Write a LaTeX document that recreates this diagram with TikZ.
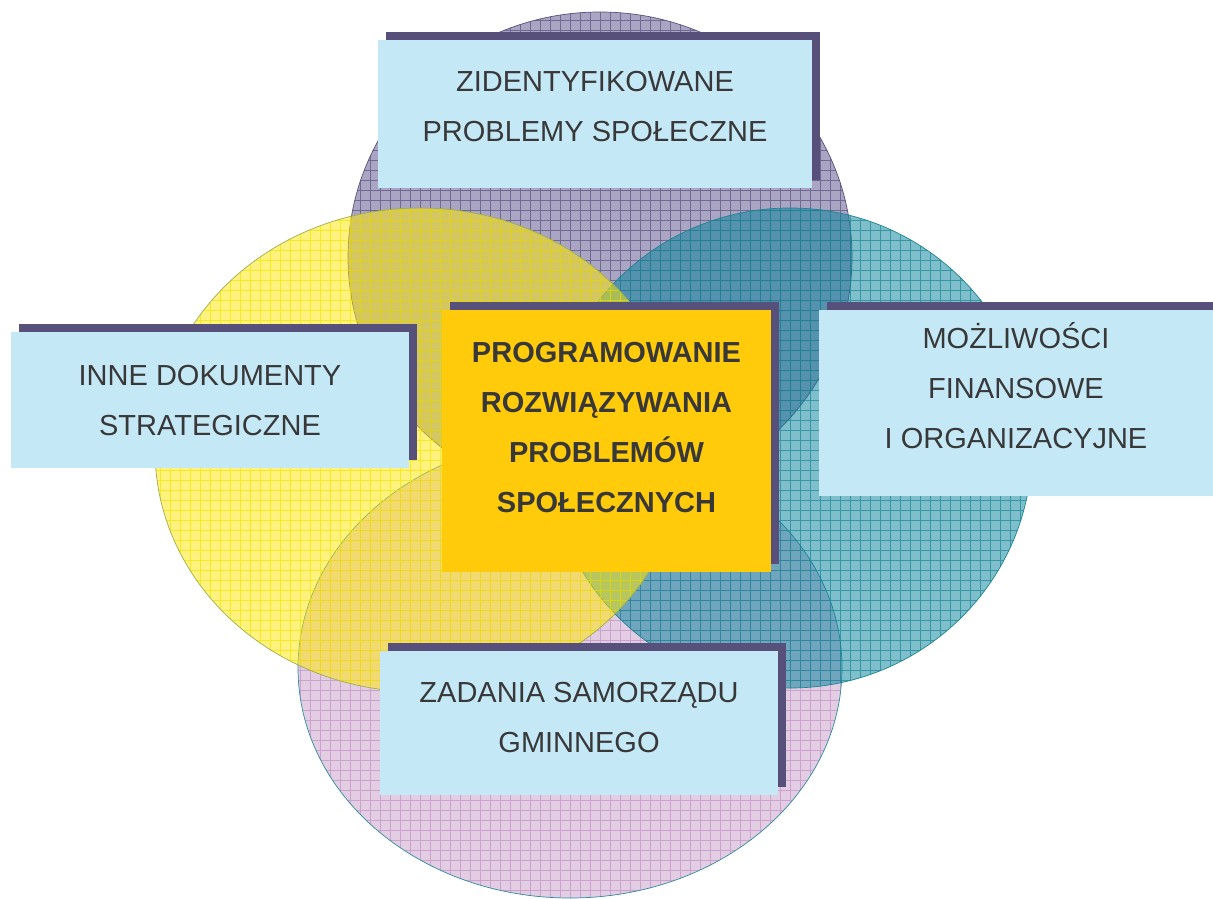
\documentclass[tikz,border=0pt]{standalone}
\usepackage{fontspec}
\setmainfont{Liberation Sans}
\usetikzlibrary{shadows}
\definecolor{purpfill}{HTML}{574D87}
\definecolor{purpline}{HTML}{57517D}
\definecolor{yelfill}{HTML}{FFE700}
\definecolor{yelline}{HTML}{F2E400}
\definecolor{yelborder}{HTML}{9CAF4E}
\definecolor{tealfill}{HTML}{008199}
\definecolor{tealline}{HTML}{1A8494}
\definecolor{pinkfill}{HTML}{C79DC9}
\definecolor{pinkline}{HTML}{C090C4}
\definecolor{pinkborder}{HTML}{2E8CA0}
\definecolor{boxblue}{HTML}{C5E8F7}
\definecolor{shadowcol}{HTML}{56507A}
\definecolor{centerorange}{HTML}{FFCB0A}
\definecolor{txtcol}{HTML}{383838}
\begin{document}
\begin{tikzpicture}[x=1pt,y=-1pt,
  ellfill/.style={fill opacity=0.5},
  gridline/.style={line width=0.6pt, opacity=0.7},
  ellborder/.style={line width=0.7pt},
  boxshadow/.style={general shadow={fill=shadowcol, shadow xshift=8pt, shadow yshift=8pt}},
  lbox/.style={boxshadow, fill=boxblue, inner sep=0pt},
  cbox/.style={boxshadow, fill=centerorange, inner sep=0pt},
  txt/.style={align=center, text=txtcol, inner sep=0pt, font=\fontsize{29}{50}\selectfont},
  ctxt/.style={txt, font=\fontsize{29}{50}\selectfont\bfseries}
]
\useasboundingbox (0,0) rectangle (1213,899);
\fill[white] (0,0) rectangle (1213,899);

% purple (top)
\fill[purpfill, ellfill] (600,257) ellipse [x radius=252pt, y radius=245pt];
\begin{scope}
  \clip (600,257) ellipse [x radius=252pt, y radius=245pt];
  \draw[purpline, gridline, step=10pt] (340,0) grid (860,510);
\end{scope}
\draw[purpline, ellborder] (600,257) ellipse [x radius=252pt, y radius=245pt];

% pink (bottom)
\fill[pinkfill, ellfill] (570,668) ellipse [x radius=272pt, y radius=230pt];
\begin{scope}
  \clip (570,668) ellipse [x radius=272pt, y radius=230pt];
  \draw[pinkline, gridline, step=10pt] (290,430) grid (850,905);
\end{scope}
\draw[pinkborder, ellborder] (570,668) ellipse [x radius=272pt, y radius=230pt];

% teal (right)
\fill[tealfill, ellfill] (790,448) ellipse [x radius=242pt, y radius=240pt];
\begin{scope}
  \clip (790,448) ellipse [x radius=242pt, y radius=240pt];
  \draw[tealline, gridline, step=10pt] (540,200) grid (1040,700);
\end{scope}
\draw[tealline, ellborder] (790,448) ellipse [x radius=242pt, y radius=240pt];

% yellow (left)
\fill[yelfill, ellfill] (420,450) ellipse [x radius=265pt, y radius=242pt];
\begin{scope}
  \clip (420,450) ellipse [x radius=265pt, y radius=242pt];
  \draw[yelline, gridline, step=10pt] (150,200) grid (690,700);
\end{scope}
\draw[yelborder, ellborder] (420,450) ellipse [x radius=265pt, y radius=242pt];

% boxes
\node[lbox, minimum width=434pt, minimum height=148pt] (zid) at (595,114) {};
\node[txt] (zidT) at (595,107) {ZIDENTYFIKOWANE\\PROBLEMY SPOŁECZNE};

\node[lbox, minimum width=398pt, minimum height=136pt] (inne) at (210,400) {};
\node[txt] (inneT) at (210,401) {INNE DOKUMENTY\\STRATEGICZNE};

\node[lbox, minimum width=394pt, minimum height=186pt] (moz) at (1016,403) {};
\node[txt] (mozT) at (1016,386) {MOŻLIWOŚCI\\FINANSOWE\\I ORGANIZACYJNE};

\node[lbox, minimum width=398pt, minimum height=144pt] (zad) at (579,723) {};
\node[txt] (zadT) at (579,717.5) {ZADANIA SAMORZĄDU\\GMINNEGO};

\node[cbox, minimum width=329pt, minimum height=262pt] (prog) at (606.5,441) {};
\node[ctxt] (progT) at (606.5,427.5) {PROGRAMOWANIE\\ROZWIĄZYWANIA\\PROBLEMÓW\\SPOŁECZNYCH};
\end{tikzpicture}
\end{document}
